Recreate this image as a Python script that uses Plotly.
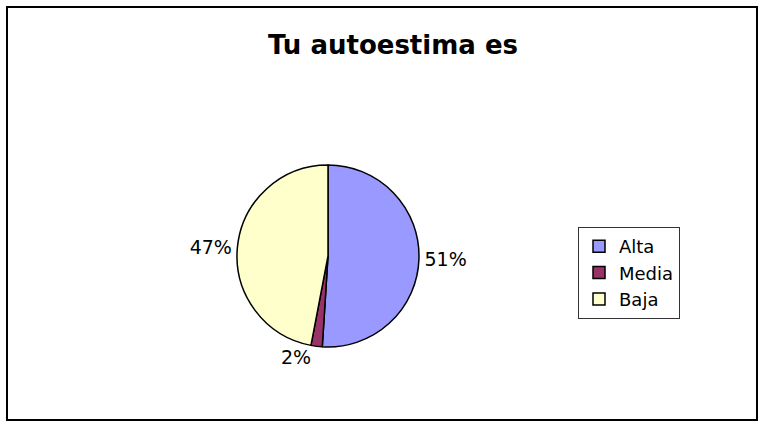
import plotly.graph_objects as go

categories = ["Alta", "Media", "Baja"]
values = [51, 2, 47]
colors = ["#9999FF", "#993366", "#FFFFCC"]
title_text = "Tu autoestima es"

W, H = 765, 428
cx, cy, r = 328, 256, 91

FONT = "DejaVu Sans, Liberation Sans, Arial"

fig = go.Figure(go.Pie(
    labels=categories,
    values=values,
    sort=False,
    direction="clockwise",
    rotation=0,
    marker=dict(colors=colors, line=dict(color="black", width=1.5)),
    textposition="outside",
    texttemplate="%{value}%",
    textfont=dict(family=FONT, size=19, color="black"),
    domain=dict(x=[(cx - r) / W, (cx + r) / W], y=[(H - cy - r) / H, (H - cy + r) / H]),
    showlegend=True,
    automargin=False,
))

fig.update_layout(
    width=W, height=H,
    margin=dict(l=0, r=0, t=0, b=0),
    paper_bgcolor="white",
    plot_bgcolor="white",
    font=dict(family=FONT, color="black"),
    title=dict(text=title_text, x=393 / W, xanchor="center", y=(H - 45) / H, yanchor="middle",
               font=dict(family=FONT, size=26, color="black", weight="bold")),
    legend=dict(x=578 / W, xanchor="left", y=(H - 227) / H, yanchor="top",
                bordercolor="#333333", borderwidth=1, bgcolor="white",
                font=dict(family=FONT, size=18, color="black"),
                traceorder="normal"),
    shapes=[dict(type="rect", xref="paper", yref="paper",
                 x0=7 / W, x1=757 / W, y0=(H - 420) / H, y1=(H - 7) / H,
                 line=dict(color="black", width=2))],
)

fig.write_html("out.html", config={"displayModeBar": False},
               post_script="document.body.style.margin='0';document.body.style.padding='0';")
